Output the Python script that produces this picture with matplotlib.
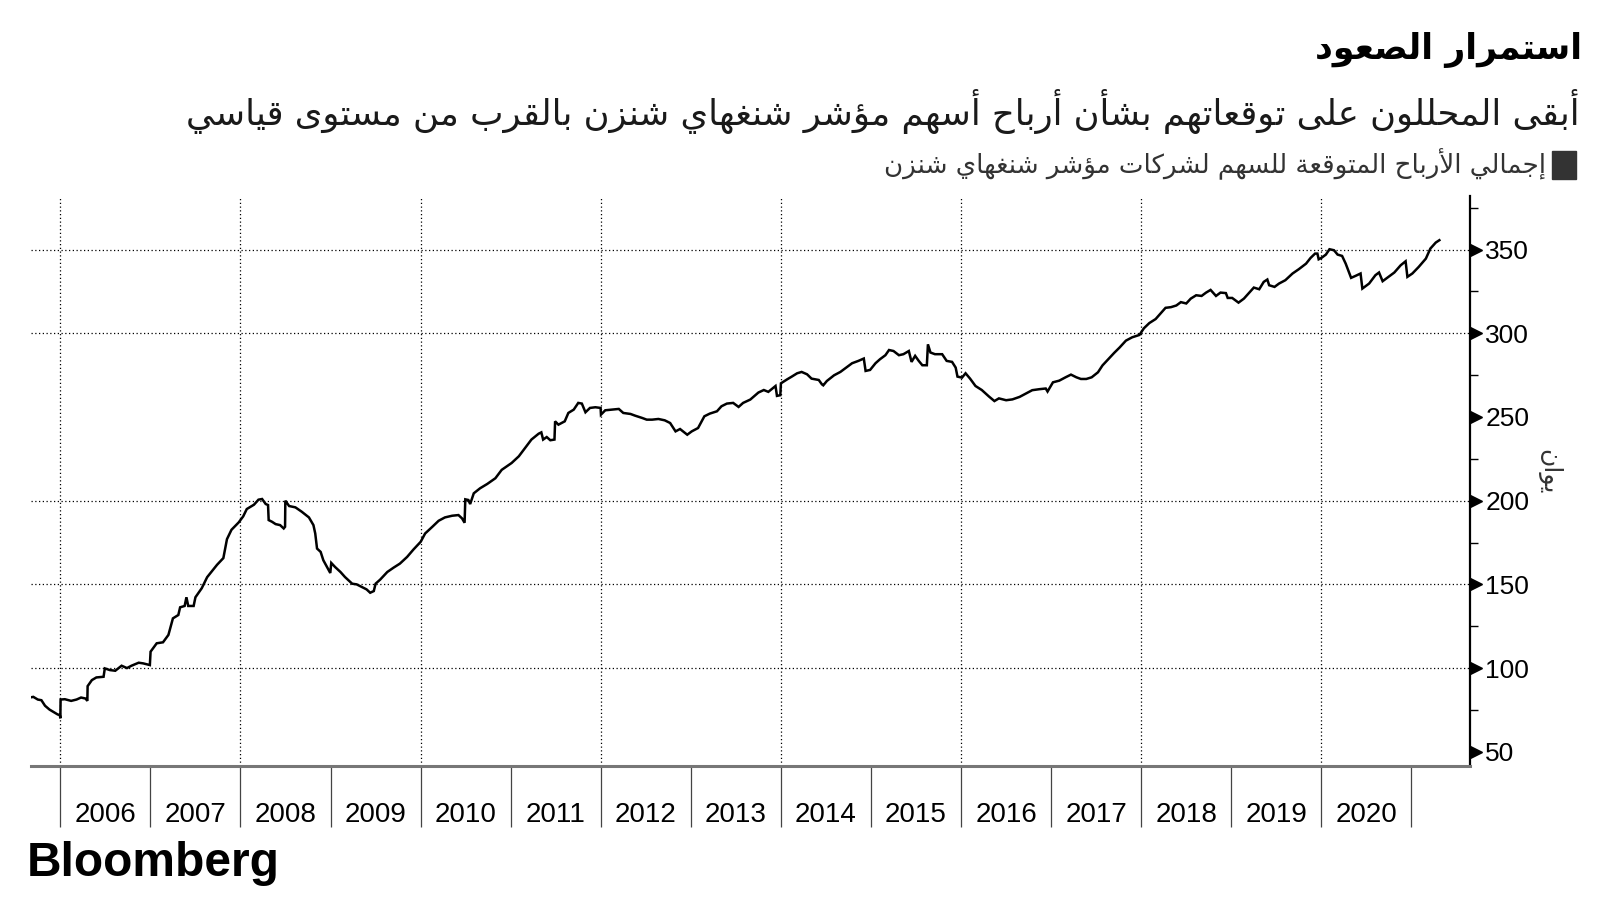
"""
Shanghai-Shenzhen index: aggregate expected EPS, Bloomberg-style line chart (Arabic).
Saves out.png at 1600x900.
"""

import matplotlib
matplotlib.use("Agg")
import matplotlib.pyplot as plt
import matplotlib.transforms as mtransforms
from matplotlib.patches import Rectangle

TITLE = "استمرار الصعود"
SUBTITLE = "أبقى المحللون على توقعاتهم بشأن أرباح أسهم مؤشر شنغهاي شنزن بالقرب من مستوى قياسي"
LEGEND_LABEL = "إجمالي الأرباح المتوقعة للسهم لشركات مؤشر شنغهاي شنزن"
Y_LABEL = "يوان"
SOURCE = "Bloomberg"

# decimal year
years = [
    2005.66, 2005.70, 2005.75, 2005.79, 2005.83, 2005.88, 2005.94, 2005.97, 2005.995, 2006.00,
    2006.003, 2006.05, 2006.12, 2006.18, 2006.23, 2006.28, 2006.30, 2006.303, 2006.35, 2006.40,
    2006.48, 2006.494, 2006.55, 2006.61, 2006.68, 2006.74, 2006.79, 2006.87, 2006.92, 2006.994,
    2007.002, 2007.07, 2007.14, 2007.20, 2007.25, 2007.31, 2007.33, 2007.38, 2007.40, 2007.42,
    2007.48, 2007.50, 2007.57, 2007.63, 2007.68, 2007.74, 2007.81, 2007.85, 2007.90, 2007.98,
    2008.03, 2008.07, 2008.15, 2008.20, 2008.24, 2008.28, 2008.306, 2008.313, 2008.35, 2008.39,
    2008.44, 2008.48, 2008.495, 2008.498, 2008.54, 2008.61, 2008.68, 2008.76, 2008.81, 2008.83,
    2008.85, 2008.89, 2008.92, 2008.96, 2008.997, 2009.008, 2009.05, 2009.11, 2009.16, 2009.24,
    2009.29, 2009.35, 2009.40, 2009.44, 2009.48, 2009.50, 2009.55, 2009.63, 2009.70, 2009.77,
    2009.85, 2009.92, 2010.00, 2010.05, 2010.13, 2010.20, 2010.27, 2010.35, 2010.42, 2010.46,
    2010.488, 2010.496, 2010.53, 2010.55, 2010.59, 2010.66, 2010.74, 2010.83, 2010.90, 2011.01,
    2011.09, 2011.16, 2011.23, 2011.31, 2011.34, 2011.36, 2011.40, 2011.44, 2011.486, 2011.493,
    2011.53, 2011.60, 2011.64, 2011.70, 2011.75, 2011.79, 2011.83, 2011.88, 2011.94, 2011.998,
    2012.002, 2012.05, 2012.12, 2012.20, 2012.25, 2012.33, 2012.38, 2012.46, 2012.51, 2012.57,
    2012.64, 2012.71, 2012.77, 2012.83, 2012.88, 2012.96, 2013.01, 2013.08, 2013.15, 2013.21,
    2013.29, 2013.34, 2013.40, 2013.47, 2013.53, 2013.58, 2013.66, 2013.70, 2013.75, 2013.81,
    2013.86, 2013.94, 2013.956, 2013.993, 2014.00, 2014.07, 2014.12, 2014.18, 2014.23, 2014.29,
    2014.34, 2014.42, 2014.455, 2014.47, 2014.51, 2014.59, 2014.66, 2014.71, 2014.79, 2014.86,
    2014.92, 2014.94, 2014.99, 2015.05, 2015.10, 2015.16, 2015.20, 2015.25, 2015.31, 2015.36,
    2015.42, 2015.45, 2015.49, 2015.53, 2015.57, 2015.62, 2015.632, 2015.66, 2015.71, 2015.79,
    2015.84, 2015.90, 2015.94, 2015.96, 2016.01, 2016.05, 2016.10, 2016.16, 2016.23, 2016.31,
    2016.37, 2016.42, 2016.50, 2016.57, 2016.65, 2016.72, 2016.79, 2016.87, 2016.94, 2016.96,
    2017.02, 2017.09, 2017.16, 2017.22, 2017.28, 2017.33, 2017.39, 2017.45, 2017.52, 2017.57,
    2017.65, 2017.70, 2017.76, 2017.83, 2017.90, 2017.98, 2018.03, 2018.09, 2018.16, 2018.22,
    2018.27, 2018.33, 2018.39, 2018.44, 2018.50, 2018.55, 2018.61, 2018.67, 2018.72, 2018.77,
    2018.83, 2018.88, 2018.94, 2018.96, 2019.01, 2019.08, 2019.14, 2019.20, 2019.25, 2019.31,
    2019.36, 2019.40, 2019.42, 2019.48, 2019.53, 2019.60, 2019.68, 2019.75, 2019.83, 2019.88,
    2019.93, 2019.956, 2019.97, 2020.00, 2020.05, 2020.09, 2020.14, 2020.18, 2020.23, 2020.27,
    2020.33, 2020.38, 2020.435, 2020.455, 2020.53, 2020.60, 2020.64, 2020.68, 2020.73, 2020.81,
    2020.88, 2020.935, 2020.955, 2021.01, 2021.08, 2021.16, 2021.21, 2021.27, 2021.31,
]

# expected EPS, yuan
eps = [
    82.4, 82.8, 81.2, 80.8, 77.5, 75.2, 73.3, 72.3, 71.9, 70.0,
    81.2, 81.4, 80.4, 81.2, 82.4, 81.8, 80.4, 89.2, 92.8, 94.4,
    94.8, 99.8, 98.8, 98.4, 101.4, 100.0, 101.4, 103.2, 102.8, 101.8,
    109.8, 114.8, 115.4, 119.8, 129.7, 131.7, 136.3, 137.1, 142.3, 137.1,
    137.1, 142.3, 147.7, 154.3, 157.7, 161.7, 165.7, 177.0, 182.6, 187.0,
    190.6, 195.0, 197.6, 200.6, 201.0, 198.0, 197.4, 188.4, 187.4, 186.0,
    185.4, 183.4, 184.4, 200.0, 196.8, 196.0, 193.4, 190.0, 185.4, 180.4,
    171.4, 169.4, 164.4, 160.4, 156.8, 162.8, 160.4, 157.4, 154.4, 150.4,
    150.0, 148.4, 147.0, 145.0, 146.0, 150.4, 152.8, 157.4, 160.0, 162.4,
    166.4, 170.8, 175.4, 180.4, 184.4, 188.0, 190.0, 191.0, 191.4, 189.4,
    186.8, 200.8, 200.4, 198.0, 204.4, 207.4, 210.0, 213.4, 218.4, 222.5,
    226.5, 231.5, 236.5, 240.0, 240.8, 236.5, 238.0, 236.1, 236.5, 247.4,
    245.4, 247.4, 252.4, 254.4, 258.4, 258.0, 252.8, 255.4, 255.8, 255.4,
    251.4, 254.0, 254.4, 254.8, 252.4, 251.8, 250.8, 249.4, 248.4, 248.4,
    248.8, 248.0, 246.4, 241.4, 242.8, 239.4, 241.4, 243.4, 250.4, 252.0,
    253.4, 256.4, 258.0, 258.4, 256.0, 258.4, 260.4, 262.3, 264.6, 266.1,
    265.0, 268.5, 262.6, 263.0, 270.1, 272.5, 274.1, 276.1, 276.9, 275.5,
    272.9, 272.1, 269.5, 268.9, 271.5, 274.9, 276.9, 278.9, 282.1, 283.5,
    284.9, 277.5, 278.1, 282.1, 284.5, 286.9, 290.0, 289.4, 286.9, 287.5,
    289.4, 282.9, 286.5, 283.5, 280.9, 280.9, 293.4, 288.5, 287.5, 287.5,
    283.5, 282.9, 279.5, 274.1, 273.5, 276.1, 272.9, 268.5, 266.1, 262.2,
    259.5, 261.1, 260.0, 260.5, 262.0, 264.0, 266.0, 266.6, 267.0, 265.2,
    270.7, 271.7, 273.7, 275.3, 273.7, 272.7, 272.7, 273.7, 276.7, 280.8,
    285.4, 288.3, 291.5, 295.6, 297.6, 299.0, 303.0, 306.1, 308.5, 312.2,
    315.2, 315.6, 316.6, 318.6, 317.8, 320.7, 322.7, 322.3, 324.3, 325.9,
    322.3, 324.3, 324.0, 321.1, 321.1, 318.3, 320.7, 324.3, 327.3, 326.3,
    330.7, 332.1, 328.7, 327.7, 329.7, 331.7, 335.7, 338.3, 341.6, 345.0,
    347.6, 347.6, 344.2, 345.0, 347.0, 350.2, 349.6, 347.0, 346.2, 341.6,
    333.1, 334.3, 335.7, 326.7, 329.7, 334.7, 336.3, 331.1, 333.1, 336.3,
    340.6, 343.0, 333.7, 335.7, 339.6, 344.6, 350.6, 354.2, 355.6,
]

year_labels = list(range(2006, 2021))
year_edges = list(range(2006, 2022))
grid_years = list(range(2006, 2021, 2))
y_ticks = [50, 100, 150, 200, 250, 300, 350]
y_minor = [75, 125, 175, 225, 275, 325, 375]
y_grid = [100, 150, 200, 300, 350]   # no 250 line in the original

ARABIC_FONT = ["DejaVu Sans"]

# Arabic letter -> first presentation-form codepoint and number of forms
# (isolated, final, initial, medial); 2 forms = joins only to the right.
_FORMS = {
    "ء": (0xFE80, 1), "آ": (0xFE81, 2), "أ": (0xFE83, 2), "ؤ": (0xFE85, 2),
    "إ": (0xFE87, 2), "ئ": (0xFE89, 4), "ا": (0xFE8D, 2), "ب": (0xFE8F, 4),
    "ة": (0xFE93, 2), "ت": (0xFE95, 4), "ث": (0xFE99, 4), "ج": (0xFE9D, 4),
    "ح": (0xFEA1, 4), "خ": (0xFEA5, 4), "د": (0xFEA9, 2), "ذ": (0xFEAB, 2),
    "ر": (0xFEAD, 2), "ز": (0xFEAF, 2), "س": (0xFEB1, 4), "ش": (0xFEB5, 4),
    "ص": (0xFEB9, 4), "ض": (0xFEBD, 4), "ط": (0xFEC1, 4), "ظ": (0xFEC5, 4),
    "ع": (0xFEC9, 4), "غ": (0xFECD, 4), "ف": (0xFED1, 4), "ق": (0xFED5, 4),
    "ك": (0xFED9, 4), "ل": (0xFEDD, 4), "م": (0xFEE1, 4), "ن": (0xFEE5, 4),
    "ه": (0xFEE9, 4), "و": (0xFEED, 2), "ى": (0xFEEF, 2), "ي": (0xFEF1, 4),
}
_LAM_ALEF = {"آ": 0xFEF5, "أ": 0xFEF7, "إ": 0xFEF9, "ا": 0xFEFB}


def shape(text):
    """Contextual forms + right-to-left order, since matplotlib does no shaping."""
    toks = []
    i = 0
    while i < len(text):
        if text[i] == "ل" and i + 1 < len(text) and text[i + 1] in _LAM_ALEF:
            toks.append((_LAM_ALEF[text[i + 1]], 2))
            i += 2
        else:
            toks.append(_FORMS.get(text[i], (text[i], 0)))
            i += 1
    out = []
    for k, (base, n) in enumerate(toks):
        if n == 0:
            out.append(base)
            continue
        prev_j = k > 0 and toks[k - 1][1] == 4
        next_j = n == 4 and k + 1 < len(toks) and toks[k + 1][1] >= 2
        if n == 1:
            idx = 0
        elif n == 2:
            idx = 1 if prev_j else 0
        else:
            idx = {(False, False): 0, (True, False): 1,
                   (False, True): 2, (True, True): 3}[(prev_j, next_j)]
        out.append(chr(base + idx))
    return "".join(reversed(out))


fig = plt.figure(figsize=(16, 9), dpi=100)
W, H = 1600, 900
ax = fig.add_axes([30.6 / W, 1 - 766 / H, (1470 - 30.6) / W, (766 - 196) / H])

ax.plot(years, eps, color="black", lw=1.8, solid_joinstyle="miter", zorder=3)

ax.set_xlim(2005.67, 2021.65)
ax.set_ylim(41.5, 382)

dots = (0, (1, 2))
for v in y_grid:
    ax.axhline(v, color="black", lw=0.9, linestyle=dots, zorder=1)
for v in grid_years:
    ax.axvline(v, color="black", lw=0.9, linestyle=dots, zorder=1)

for side in ("left", "top"):
    ax.spines[side].set_visible(False)
ax.spines["right"].set_color("black")
ax.spines["right"].set_linewidth(1.6)
ax.spines["bottom"].set_color("#777777")
ax.spines["bottom"].set_linewidth(2.2)

# y axis on the right, arrow-head major ticks
ax.yaxis.tick_right()
ax.set_yticks(y_ticks)
ax.set_yticks(y_minor, minor=True)
ax.tick_params(axis="y", which="major", length=0, pad=11, labelsize=19,
               labelcolor="black")
ax.tick_params(axis="y", which="minor", length=6, width=1, color="black",
               direction="out")
for lbl in ax.get_yticklabels():
    lbl.set_family(["Liberation Sans", "DejaVu Sans"])
tri = mtransforms.offset_copy(ax.get_yaxis_transform(), fig=fig, x=6, y=0, units="dots")
ax.plot([1.0] * len(y_ticks), y_ticks, linestyle="none", marker=">", markersize=8,
        color="black", transform=tri, clip_on=False, zorder=4)

# x axis: long separators at year boundaries, labels centred in each year
ax.set_xticks(year_edges)
ax.set_xticklabels([])
ax.set_xticks([y + 0.5 for y in year_labels], minor=True)
ax.set_xticklabels([str(y) for y in year_labels], minor=True)
ax.tick_params(axis="x", which="major", length=44, width=0.9, color="#444444",
               direction="out")
ax.tick_params(axis="x", which="minor", length=0, pad=26, labelsize=20)
for lbl in ax.get_xticklabels(minor=True):
    lbl.set_family(["Liberation Sans Narrow", "Liberation Sans", "DejaVu Sans"])

# header
fig.text(1582 / W, 1 - 50 / H, shape(TITLE), ha="right", va="center",
         fontsize=25, fontweight="bold", family=ARABIC_FONT, color="black")
fig.text(1580 / W, 1 - 111 / H, shape(SUBTITLE), ha="right", va="center",
         fontsize=25.5, family=ARABIC_FONT, color="#1a1a1a")
fig.text(1546 / W, 1 - 164 / H, shape(LEGEND_LABEL), ha="right", va="center",
         fontsize=18.8, family=ARABIC_FONT, color="#333333")
fig.patches.append(Rectangle((1552 / W, 1 - 179 / H), 24 / W, 28 / H,
                             transform=fig.transFigure, color="#333333"))

fig.text(1549 / W, 1 - 472 / H, shape(Y_LABEL), rotation=270, ha="center",
         va="center", fontsize=18, family=ARABIC_FONT, color="#333333")

fig.text(27 / W, 1 - 863 / H, SOURCE, ha="left", va="center", fontsize=34.5,
         fontweight="bold", family=["Liberation Sans", "DejaVu Sans"])

fig.savefig("out.png", dpi=100)
